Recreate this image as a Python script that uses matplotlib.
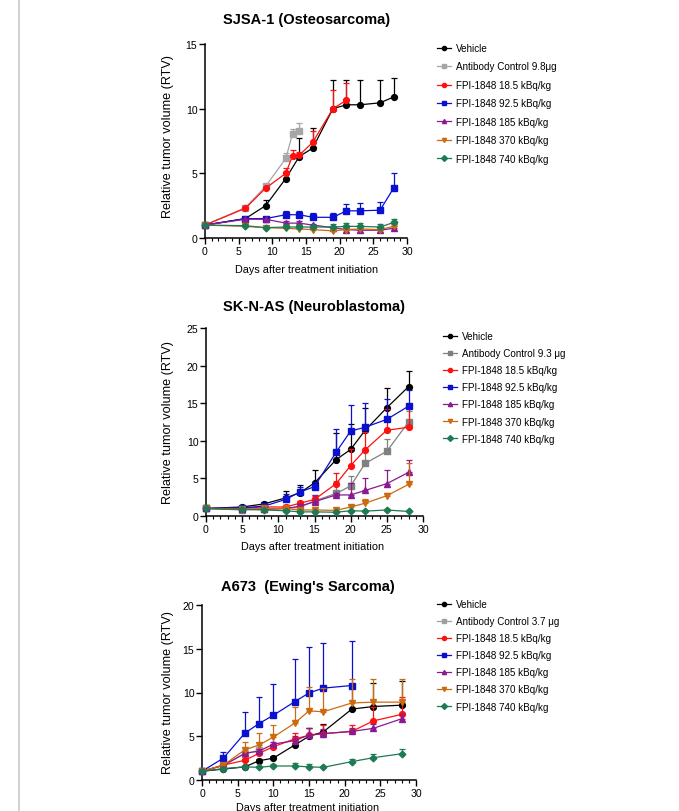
import matplotlib
matplotlib.use("Agg")
import matplotlib.pyplot as plt
from matplotlib.ticker import MultipleLocator
from matplotlib.lines import Line2D
import numpy as np

plt.rcParams['font.family'] = ['Liberation Sans', 'DejaVu Sans']

# ---------------- data ----------------
series_labels_1 = ["Vehicle", "Antibody Control 9.8\u03bcg", "FPI-1848 18.5 kBq/kg",
                   "FPI-1848 92.5 kBq/kg", "FPI-1848 185 kBq/kg",
                   "FPI-1848 370 kBq/kg", "FPI-1848 740 kBq/kg"]
series_labels_2 = ["Vehicle", "Antibody Control 9.3 \u03bcg", "FPI-1848 18.5 kBq/kg",
                   "FPI-1848 92.5 kBq/kg", "FPI-1848 185 kBq/kg",
                   "FPI-1848 370 kBq/kg", "FPI-1848 740 kBq/kg"]
series_labels_3 = ["Vehicle", "Antibody Control 3.7 \u03bcg", "FPI-1848 18.5 kBq/kg",
                   "FPI-1848 92.5 kBq/kg", "FPI-1848 185 kBq/kg",
                   "FPI-1848 370 kBq/kg", "FPI-1848 740 kBq/kg"]

# SJSA-1
sjsa_days = [0, 6, 9, 12, 14, 16, 19, 21, 23, 26, 28]
sjsa_ab_days = [0, 6, 9, 12, 13, 14]
sjsa_red_days = [0, 6, 9, 12, 13, 14, 16, 19, 21]
sjsa_vehicle = [1.0, 1.5, 2.5, 4.6, 6.3, 6.95, 10.0, 10.3, 10.3, 10.45, 10.9]
sjsa_vehicle_err = [0, 0.05, 0.4, 0.5, 1.4, 1.55, 2.2, 1.9, 1.9, 1.8, 1.5]
sjsa_ab = [1.0, 2.35, 4.0, 6.15, 8.05, 8.3]
sjsa_ab_err = [0, 0.1, 0.1, 0.45, 0.35, 0.6]
sjsa_185k = [1.0, 2.3, 3.85, 5.0, 6.35, 6.4, 7.4, 10.0, 10.65]
sjsa_185k_err = [0, 0.05, 0.1, 0.4, 0.45, 0.25, 0.85, 1.45, 1.3]
sjsa_925 = [1.0, 1.5, 1.5, 1.8, 1.8, 1.6, 1.6, 2.1, 2.1, 2.15, 3.85]
sjsa_925_err = [0, 0.15, 0.1, 0.3, 0.3, 0.3, 0.3, 0.55, 0.6, 0.6, 1.15]
sjsa_185 = [1.0, 1.45, 1.45, 1.15, 1.15, 1.0, 0.8, 0.65, 0.6, 0.6, 0.75]
sjsa_185_err = [0, 0.05, 0.05, 0.15, 0.15, 0.1, 0.1, 0.1, 0.15, 0.15, 0.15]
sjsa_370 = [1.0, 0.9, 0.8, 0.75, 0.7, 0.65, 0.55, 0.65, 0.7, 0.65, 0.9]
sjsa_370_err = [0, 0.1, 0.05, 0.1, 0.1, 0.1, 0.1, 0.1, 0.1, 0.1, 0.15]
sjsa_740 = [1.0, 0.95, 0.8, 0.85, 0.85, 0.85, 0.85, 0.9, 0.9, 0.85, 1.2]
sjsa_740_err = [0, 0.1, 0.1, 0.2, 0.2, 0.15, 0.2, 0.25, 0.25, 0.25, 0.3]

# SK-N-AS
skn_days = [0, 5, 8, 11, 13, 15, 18, 20, 22, 25, 28]
skn_vehicle = [1.0, 1.2, 1.6, 2.4, 3.1, 4.4, 7.5, 8.85, 11.4, 14.4, 17.2]
skn_vehicle_err = [0, 0.1, 0.3, 0.9, 1.0, 1.7, 3.6, 3.35, 2.9, 2.6, 2.1]
skn_ab = [1.0, 0.8, 0.9, 1.0, 1.2, 2.0, 3.0, 4.0, 7.0, 8.6, 12.5]
skn_ab_err = [0, 0.1, 0.1, 0.2, 0.3, 0.8, 1.6, 1.3, 1.8, 1.6, 1.5]
skn_185k = [1.0, 1.05, 1.2, 1.2, 1.7, 2.2, 4.3, 6.7, 8.8, 11.4, 11.8]
skn_185k_err = [0, 0.1, 0.2, 0.2, 0.3, 0.5, 1.4, 2.2, 2.4, 2.8, 2.7]
skn_925 = [1.0, 1.1, 1.3, 2.2, 3.2, 3.9, 8.5, 11.3, 11.8, 12.85, 14.6]
skn_925_err = [0, 0.1, 0.2, 0.7, 0.7, 0.6, 3.1, 3.5, 3.2, 2.75, 2.1]
skn_185 = [1.0, 0.9, 0.9, 1.0, 1.3, 1.9, 2.8, 2.8, 3.4, 4.3, 5.8]
skn_185_err = [0, 0.1, 0.1, 0.2, 0.3, 0.9, 0.2, 1.6, 1.7, 1.8, 1.6]
skn_370 = [1.0, 0.9, 1.0, 1.0, 0.8, 0.8, 0.75, 1.2, 1.7, 2.7, 4.2]
skn_370_err = [0, 0.1, 0.1, 0.1, 0.1, 0.1, 0.1, 0.2, 0.5, 0.4, 2.9]
skn_740 = [1.0, 0.9, 0.8, 0.7, 0.55, 0.55, 0.5, 0.7, 0.65, 0.8, 0.6]
skn_740_err = [0, 0.05, 0.05, 0.1, 0.05, 0.05, 0.05, 0.1, 0.05, 0.1, 0.05]

# A673
a673_days = [0, 3, 6, 8, 10, 13, 15, 17, 21, 24, 28]
a673_ab_days = [0, 3, 6, 8]
a673_blue_days = [0, 3, 6, 8, 10, 13, 15, 17, 21]
a673_vehicle = [1.0, 1.25, 1.5, 2.2, 2.5, 4.0, 5.0, 5.5, 8.1, 8.4, 8.55]
a673_vehicle_err = [0, 0.1, 0.1, 0.25, 0.3, 0.2, 0.9, 0.9, 2.9, 2.7, 2.75]
a673_ab = [1.0, 1.7, 3.0, 3.4]
a673_ab_err = [0, 0.1, 0.2, 0.2]
a673_185k = [1.0, 1.7, 2.25, 3.05, 3.8, 4.7, 5.1, 5.3, 5.55, 6.75, 7.5]
a673_185k_err = [0, 0.1, 0.15, 0.2, 0.3, 0.7, 0.9, 1.0, 0.75, 1.55, 2.0]
a673_925 = [1.0, 2.5, 5.35, 6.45, 7.4, 8.95, 9.95, 10.5, 10.8]
a673_925_err = [0, 0.7, 2.45, 3.05, 3.6, 4.9, 5.25, 5.15, 5.1]
a673_185 = [1.0, 1.65, 3.05, 3.3, 4.1, 4.5, 5.15, 5.3, 5.55, 5.9, 7.0]
a673_185_err = [0, 0.1, 0.2, 0.2, 0.3, 0.5, 0.75, 0.5, 0.4, 0.5, 0.6]
a673_370 = [1.0, 1.7, 3.45, 4.0, 4.9, 6.5, 7.9, 7.8, 8.8, 8.9, 8.9]
a673_370_err = [0, 0.2, 0.85, 1.35, 1.35, 1.8, 2.7, 2.7, 2.8, 2.7, 2.7]
a673_740 = [1.0, 1.3, 1.5, 1.45, 1.6, 1.6, 1.5, 1.45, 2.1, 2.55, 3.0]
a673_740_err = [0, 0.1, 0.15, 0.2, 0.25, 0.3, 0.3, 0.2, 0.3, 0.4, 0.6]

# ---------------- styles ----------------
markers = ['o', 's', 'o', 's', '^', 'v', 'D']
colors_base = ['#000000', '#a6a6a6', '#ff1010', '#0a10d0', '#8a1a90', '#cc6a10', '#1e7a52']

fig = plt.figure(figsize=(6.79, 8.12), dpi=100)
W, H = 679.0, 812.0

def ax_rect(x0, x1, ytop, ybot):
    return [x0 / W, 1 - ybot / H, (x1 - x0) / W, (ybot - ytop) / H]

def plot_panel(rect, title, title_xy, xlabel_xy, ylabel_xy, ymax, series, labels,
               leg_xy, leg_spacing, ab_color):
    ax = fig.add_axes(rect)
    cols = list(colors_base)
    cols[1] = ab_color
    for i, (d, v, e) in enumerate(series):
        e = np.asarray(e)
        ax.errorbar(d, v, yerr=[np.zeros_like(e), e], color=cols[i], marker=markers[i],
                    ms=4.2 if markers[i] != 'D' else 3.4, lw=0.9, elinewidth=0.9,
                    capsize=2.2, capthick=0.9, clip_on=False, zorder=3 + i * 0.1)
    ax.set_xlim(0, 30)
    ax.set_ylim(0, ymax)
    ax.xaxis.set_major_locator(MultipleLocator(5))
    ax.xaxis.set_minor_locator(MultipleLocator(1))
    ax.yaxis.set_major_locator(MultipleLocator(5))
    for s in ['top', 'right']:
        ax.spines[s].set_visible(False)
    for s in ['left', 'bottom']:
        ax.spines[s].set_linewidth(1.1)
    ax.tick_params(axis='both', which='major', labelsize=7.6, length=4, width=1.0, pad=1.5)
    ax.tick_params(axis='x', which='minor', length=2, width=0.8)
    fig.text(title_xy[0] / W, 1 - title_xy[1] / H, title, ha='center', va='center',
             fontsize=10.5, fontweight='bold')
    fig.text(xlabel_xy[0] / W, 1 - xlabel_xy[1] / H, "Days after treatment initiation",
             ha='center', va='center', fontsize=7.8)
    fig.text(ylabel_xy[0] / W, 1 - ylabel_xy[1] / H, "Relative tumor volume (RTV)",
             ha='center', va='center', rotation=90, fontsize=9.1)
    handles = [Line2D([0], [0], color=cols[i], marker=markers[i], ms=3, lw=0.9)
               for i in range(len(labels))]
    ax.legend(handles, labels, loc='upper left', bbox_to_anchor=(leg_xy[0] / W, 1 - leg_xy[1] / H),
              bbox_transform=fig.transFigure, frameon=False, fontsize=7.1,
              handlelength=1.45, handletextpad=0.45, labelspacing=leg_spacing,
              borderpad=0, borderaxespad=0)
    return ax

plot_panel(ax_rect(205, 407, 45, 239), "SJSA-1 (Osteosarcoma)", (307, 20), (307, 270), (168, 137),
           15,
           [(sjsa_days, sjsa_vehicle, sjsa_vehicle_err),
            (sjsa_ab_days, sjsa_ab, sjsa_ab_err),
            (sjsa_red_days, sjsa_185k, sjsa_185k_err),
            (sjsa_days, sjsa_925, sjsa_925_err),
            (sjsa_days, sjsa_185, sjsa_185_err),
            (sjsa_days, sjsa_370, sjsa_370_err),
            (sjsa_days, sjsa_740, sjsa_740_err)],
           series_labels_1, (437, 44), 0.86, '#a6a6a6')

plot_panel(ax_rect(206, 423, 329, 517), "SK-N-AS (Neuroblastoma)", (314, 307), (313, 547), (168, 423),
           25,
           [(skn_days, skn_vehicle, skn_vehicle_err),
            (skn_days, skn_ab, skn_ab_err),
            (skn_days, skn_185k, skn_185k_err),
            (skn_days, skn_925, skn_925_err),
            (skn_days, skn_185, skn_185_err),
            (skn_days, skn_370, skn_370_err),
            (skn_days, skn_740, skn_740_err)],
           series_labels_2, (443, 332), 0.72, '#808080')

plot_panel(ax_rect(202, 416, 606, 781), "A673  (Ewing's Sarcoma)", (308, 587), (308, 808), (168, 693),
           20,
           [(a673_days, a673_vehicle, a673_vehicle_err),
            (a673_ab_days, a673_ab, a673_ab_err),
            (a673_days, a673_185k, a673_185k_err),
            (a673_blue_days, a673_925, a673_925_err),
            (a673_days, a673_185, a673_185_err),
            (a673_days, a673_370, a673_370_err),
            (a673_days, a673_740, a673_740_err)],
           series_labels_3, (437, 600), 0.72, '#a0a0a0')

# page edge line on the left
fig.add_artist(Line2D([18.5 / W, 18.5 / W], [0, 1], color='#c8c8c8', lw=1.2))

fig.savefig("out.png", dpi=100)
